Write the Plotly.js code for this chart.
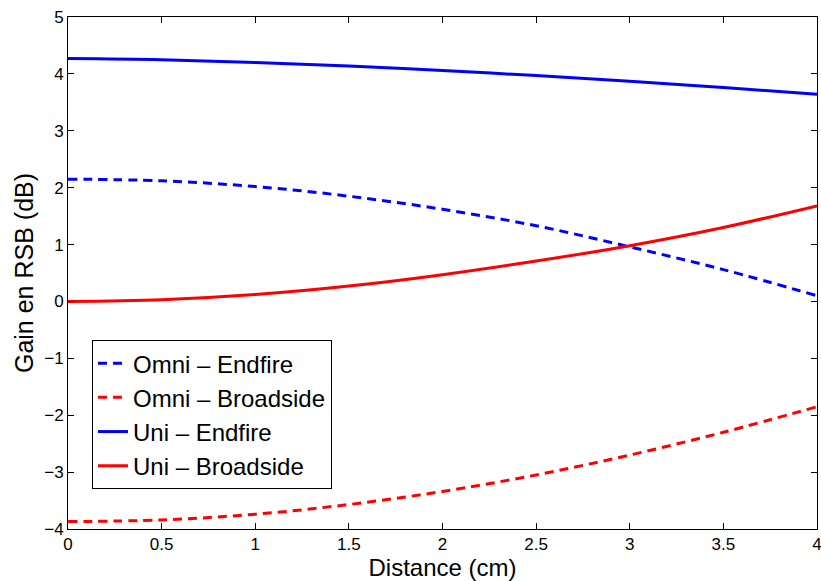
<!DOCTYPE html>
<html>
<head>
<meta charset="utf-8">
<script src="https://cdn.plot.ly/plotly-3.0.1.min.js"></script>
<style>html,body{margin:0;padding:0;background:#fff;}#chart{width:821px;height:581px;}</style>
</head>
<body>
<div id="chart"></div>
<script>
const distance = [0, 0.5, 1, 1.5, 2, 2.5, 3, 3.5, 4];
const omniEndfire = [2.15, 2.12, 2.02, 1.85, 1.62, 1.33, 0.96, 0.56, 0.10];
const omniBroadside = [-3.87, -3.84, -3.74, -3.57, -3.34, -3.05, -2.70, -2.30, -1.85];
const uniEndfire = [4.27, 4.25, 4.20, 4.14, 4.06, 3.97, 3.87, 3.76, 3.64];
const uniBroadside = [0.00, 0.03, 0.12, 0.27, 0.47, 0.71, 0.98, 1.30, 1.68];
const seriesNames = ['Omni – Endfire', 'Omni – Broadside', 'Uni – Endfire', 'Uni – Broadside'];
const xTicks = [0, 0.5, 1, 1.5, 2, 2.5, 3, 3.5, 4];
const yTicks = [-4, -3, -2, -1, 0, 1, 2, 3, 4, 5];

const FONT = 'Liberation Sans, Arial, Helvetica, sans-serif';
const dashed = '9px,6px';
function tr(y, name, color, dash) {
  return {x: distance, y: y, name: name, type: 'scatter', mode: 'lines',
    line: {color: color, width: 3, dash: dash, shape: 'spline', smoothing: 1}};
}
const data = [
  tr(omniEndfire, seriesNames[0], '#0000ff', dashed),
  tr(omniBroadside, seriesNames[1], '#ff0000', dashed),
  tr(uniEndfire, seriesNames[2], '#0000ff', 'solid'),
  tr(uniBroadside, seriesNames[3], '#ff0000', 'solid')
];
const axisCommon = {
  showline: true, linecolor: '#000', linewidth: 1, mirror: 'ticks',
  ticks: 'inside', ticklen: 6, tickcolor: '#000', tickwidth: 1,
  showgrid: false, zeroline: false,
  tickfont: {family: FONT, size: 17, color: '#000'}
};
const layout = {
  width: 821, height: 581,
  margin: {l: 68, r: 4, t: 17, b: 52},
  paper_bgcolor: '#fff', plot_bgcolor: '#fff',
  font: {family: FONT, color: '#000'},
  showlegend: true,
  legend: {x: 0.032, y: 0.369, xanchor: 'left', yanchor: 'top',
    bgcolor: '#fff', bordercolor: '#000', borderwidth: 1,
    font: {family: FONT, size: 24, color: '#000'}, tracegroupgap: 0},
  xaxis: Object.assign({}, axisCommon, {range: [-0.00001, 4.00001], tickvals: xTicks,
    ticklabeloverflow: 'allow',
    title: {text: 'Distance (cm)', font: {family: FONT, size: 24, color: '#000'}, standoff: 4}}),
  yaxis: Object.assign({}, axisCommon, {range: [-4, 5], tickvals: yTicks,
    title: {text: 'Gain en RSB (dB)', font: {family: FONT, size: 25, color: '#000'}, standoff: 3}})
};
Plotly.newPlot('chart', data, layout, {displayModeBar: false, staticPlot: true});
</script>
</body>
</html>
